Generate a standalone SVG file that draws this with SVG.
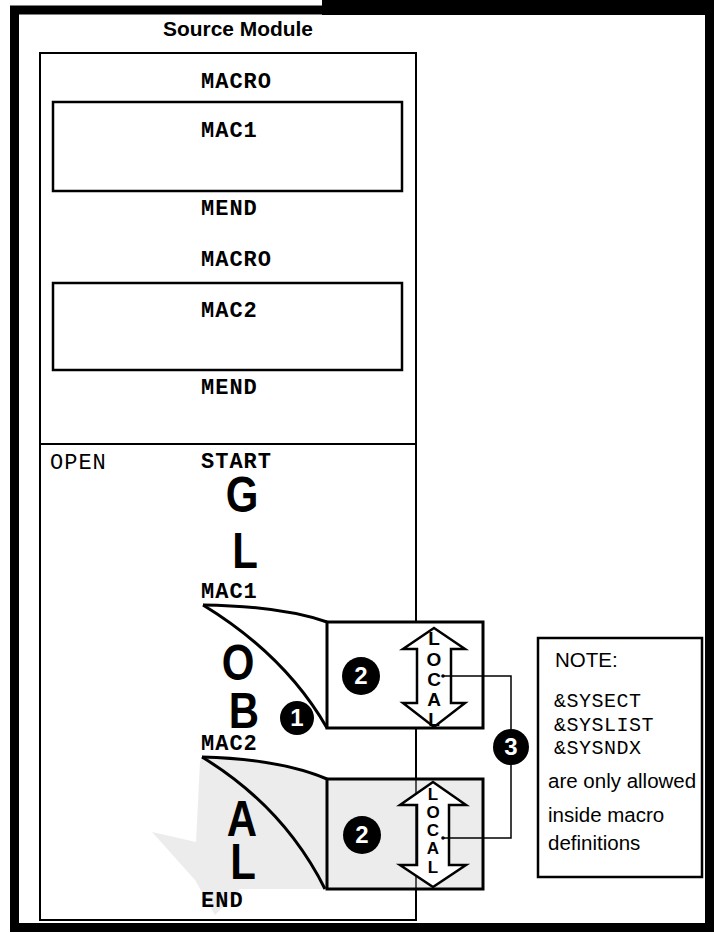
<svg xmlns="http://www.w3.org/2000/svg" width="714" height="933" viewBox="0 0 714 933">
<style>
.frame{fill:none;stroke:#000}
.mono{font-family:"Liberation Mono","Courier New",monospace;font-size:22px;letter-spacing:1px;fill:#000}
.b{font-weight:bold}
.big{font-family:"Liberation Sans",Arial,sans-serif;font-weight:bold;font-size:50px;text-anchor:middle;fill:#000}
.loc{font-family:"Liberation Sans",Arial,sans-serif;font-weight:bold;font-size:19px;text-anchor:middle;fill:#000}
.loc2{font-family:"Liberation Sans",Arial,sans-serif;font-weight:bold;font-size:17px;text-anchor:middle;fill:#000}
.num{font-family:"Liberation Sans",Arial,sans-serif;font-weight:bold;font-size:24px;text-anchor:middle;fill:#fff}
.sans{font-family:"Liberation Sans",Arial,sans-serif;font-size:20.5px;fill:#000}
.note{font-family:"Liberation Mono","Courier New",monospace;font-size:20px;fill:#000;letter-spacing:0.5px}
.arrow{fill:#fff;stroke:#000;stroke-width:2.5;stroke-linejoin:miter}
.curve{fill:none;stroke:#000;stroke-width:3}
.conn{fill:none;stroke:#000;stroke-width:1.5}
.shade{fill:#cfcfcf;opacity:0.4}
</style>
<rect x="0" y="0" width="714" height="933" fill="#fff"/>
<g id="frame">
<rect x="322" y="0" width="392" height="15" fill="#000"/>
<rect class="frame" x="14.5" y="10" width="695" height="917.5" stroke-width="9"/>
</g>
<g id="title">
<text x="238" y="36" text-anchor="middle" font-family="'Liberation Sans',Arial,sans-serif" font-weight="bold" font-size="20" textLength="150" lengthAdjust="spacingAndGlyphs">Source Module</text>
</g>
<g id="source-module">
<rect class="frame" x="40" y="53" width="376" height="867" stroke-width="2"/>
<line x1="40" y1="444" x2="416" y2="444" stroke="#000" stroke-width="2"/>
</g>
<g id="shading">
<path class="shade" d="M202,757 Q284,807 325,889 L240,889 L215,915 L195,880 L152,832 L196,842 L200,762 Z"/>
<path class="shade" d="M202,757 Q280,759 327,779 L327,889 L325,889 Q284,807 202,757 Z"/>
<rect class="shade" x="327" y="779" width="156" height="110" opacity="0.25"/>
</g>
<g id="macro1">
<text class="mono b" x="201" y="88">MACRO</text>
<rect class="frame" x="53" y="102" width="349" height="89" stroke-width="2.5"/>
<text class="mono b" x="201" y="137">MAC1</text>
<text class="mono b" x="201" y="215">MEND</text>
</g>
<g id="macro2">
<text class="mono b" x="201" y="266">MACRO</text>
<rect class="frame" x="53" y="283" width="349" height="87" stroke-width="2.5"/>
<text class="mono b" x="201" y="317">MAC2</text>
<text class="mono b" x="201" y="394">MEND</text>
</g>
<g id="open-code">
<text class="mono" x="50" y="469">OPEN</text>
<text class="mono b" x="201" y="468">START</text>
<text class="big" transform="translate(242,512) scale(0.84,1)" x="0" y="0">G</text>
<text class="big" transform="translate(245,568) scale(0.84,1)" x="0" y="0">L</text>
<text class="mono b" x="201" y="598">MAC1</text>
<text class="big" transform="translate(238,680) scale(0.84,1)" x="0" y="0">O</text>
<text class="big" transform="translate(244,728) scale(0.84,1)" x="0" y="0">B</text>
<text class="mono b" x="201" y="750">MAC2</text>
<text class="big" transform="translate(242,836) scale(0.84,1)" x="0" y="0">A</text>
<text class="big" transform="translate(243,879) scale(0.84,1)" x="0" y="0">L</text>
<text class="mono b" x="201" y="907">END</text>
</g>
<g id="expansion1">
<path class="curve" d="M203,605 Q285,655 327,728"/>
<path class="curve" d="M203,605 Q280,606 327,622"/>
<rect x="327" y="622" width="156" height="106" fill="#fff" stroke="#000" stroke-width="3"/>
<circle cx="361" cy="676" r="19" fill="#000"/>
<text class="num" x="361" y="684">2</text>
<polygon class="arrow" points="434,628 465,649 451,649 451,703 465,703 434,727 403,703 417,703 417,649 403,649"/>
<text class="loc" x="434" y="645">L</text>
<text class="loc" x="434" y="666">O</text>
<text class="loc" x="434" y="686">C</text>
<text class="loc" x="434" y="706">A</text>
<text class="loc" x="434" y="726">L</text>
</g>
<g id="expansion2">
<path class="curve" d="M202,757 Q284,807 325,889"/>
<path class="curve" d="M202,757 Q280,759 327,779"/>
<rect x="327" y="779" width="156" height="110" fill="none" stroke="#000" stroke-width="3"/>
<circle cx="362" cy="835" r="19" fill="#000"/>
<text class="num" x="362" y="843">2</text>
<polygon class="arrow" points="433,782 466,805 449,805 449,865 466,865 433,887 400,865 417,865 417,805 400,805"/>
<text class="loc2" x="433" y="800">L</text>
<text class="loc2" x="433" y="818">O</text>
<text class="loc2" x="433" y="836">C</text>
<text class="loc2" x="433" y="854">A</text>
<text class="loc2" x="433" y="873">L</text>
</g>
<g id="marker1">
<circle cx="297" cy="718" r="17" fill="#000"/>
<text class="num" x="297" y="726">1</text>
</g>
<g id="connectors">
<polyline class="conn" points="443,676 511,676 511,729"/>
<polyline class="conn" points="511,765 511,838 443,838"/>
<circle cx="443" cy="676" r="1.8" fill="#000"/>
<circle cx="443" cy="838" r="1.8" fill="#000"/>
</g>
<g id="marker3">
<circle cx="511" cy="747" r="18" fill="#000"/>
<text class="num" x="511" y="755">3</text>
</g>
<g id="note">
<rect x="538" y="638" width="164" height="239" fill="#fff" stroke="#000" stroke-width="2.5"/>
<text class="sans" x="555" y="667">NOTE:</text>
<text class="note" x="554" y="707">&amp;SYSECT</text>
<text class="note" x="554" y="731">&amp;SYSLIST</text>
<text class="note" x="554" y="754">&amp;SYSNDX</text>
<text class="sans" x="548" y="788">are only allowed</text>
<text class="sans" x="548" y="822">inside macro</text>
<text class="sans" x="548" y="850">definitions</text>
</g>
</svg>
